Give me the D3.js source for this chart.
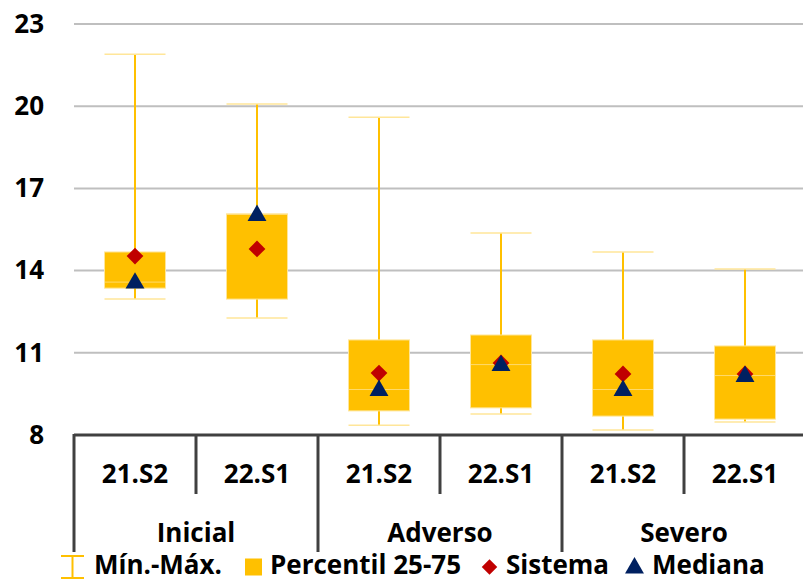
<!DOCTYPE html>
<html>
<head>
<meta charset="utf-8">
<script src="https://cdn.jsdelivr.net/npm/d3@7"></script>
<style>
  body { margin: 0; background: #fff; }
  text { font-family: "Open Sans", Lato, sans-serif; font-weight: bold; fill: #000; }
</style>
</head>
<body>
<svg id="chart" width="803" height="582"></svg>
<script>
// Data
var groups = ["Inicial", "Adverso", "Severo"];
var periods = ["21.S2", "22.S1"];
var minVals = [12.96, 12.27, 8.36, 8.77, 8.18, 8.47];
var p25Vals = [13.36, 12.96, 8.88, 8.99, 8.69, 8.58];
var medianVals = [13.58, 16.05, 9.66, 10.57, 9.66, 10.17];
var p75Vals = [14.68, 16.07, 11.47, 11.65, 11.47, 11.25];
var maxVals = [21.9, 20.08, 19.6, 15.37, 14.68, 14.06];
var sistemaVals = [14.53, 14.79, 10.26, 10.63, 10.23, 10.23];
var yTicks = [8, 11, 14, 17, 20, 23];
var legendLabels = ["Mín.-Máx.", "Percentil 25-75", "Sistema", "Mediana"];

var yellow = "#FFC000",
    capColor = "#FFE699",
    red = "#C00000",
    navy = "#002060",
    axisColor = "#404040",
    gridColor = "#BFBFBF",
    fontSize = "26px";

var svg = d3.select("#chart");

// Build one row per box
var rows = [];
groups.forEach(function (g, gi) {
    periods.forEach(function (p, pi) {
        var i = gi * periods.length + pi;
        rows.push({
            key: g + "|" + p, group: g, period: p,
            min: minVals[i], p25: p25Vals[i], median: medianVals[i],
            p75: p75Vals[i], max: maxVals[i], sistema: sistemaVals[i]
        });
    });
});

var x = d3.scaleBand()
    .domain(rows.map(function (d) { return d.key; }))
    .range([74, 806])
    .padding(0);

var y = d3.scaleLinear()
    .domain([8, 23])
    .range([435, 24]);

var boxW = x.bandwidth() * 0.5;

// Gridlines
svg.append("g")
    .selectAll("line")
    .data(yTicks.slice(1))
    .enter()
    .append("line")
        .attr("x1", 74)
        .attr("x2", 803)
        .attr("y1", function (d) { return y(d); })
        .attr("y2", function (d) { return y(d); })
        .style("stroke", gridColor)
        .style("stroke-width", 2);

// Y axis labels (no axis line)
var yAxis = d3.axisLeft(y).tickValues(yTicks).tickSize(0).tickPadding(0);
var yg = svg.append("g")
    .attr("transform", "translate(44,0)")
    .call(yAxis);
yg.select(".domain").remove();
yg.attr("font-family", null).attr("font-size", null);
yg.selectAll("text")
    .style("font-size", fontSize)
    .attr("fill", "#000");

// Boxes
var boxes = svg.append("g")
    .selectAll("g")
    .data(rows)
    .enter()
    .append("g")
        .attr("transform", function (d) { return "translate(" + (x(d.key) + x.bandwidth() / 2) + ",0)"; });

boxes.append("line")
    .attr("x1", 0).attr("x2", 0)
    .attr("y1", function (d) { return y(d.min); })
    .attr("y2", function (d) { return y(d.max); })
    .style("stroke", yellow)
    .style("stroke-width", 2);

boxes.append("line")
    .attr("x1", -boxW / 2).attr("x2", boxW / 2)
    .attr("y1", function (d) { return y(d.max); })
    .attr("y2", function (d) { return y(d.max); })
    .style("stroke", capColor)
    .style("stroke-width", 1.5);

boxes.append("line")
    .attr("x1", -boxW / 2).attr("x2", boxW / 2)
    .attr("y1", function (d) { return y(d.min); })
    .attr("y2", function (d) { return y(d.min); })
    .style("stroke", capColor)
    .style("stroke-width", 1.5);

boxes.append("rect")
    .attr("x", -boxW / 2)
    .attr("width", boxW)
    .attr("y", function (d) { return y(d.p75); })
    .attr("height", function (d) { return y(d.p25) - y(d.p75); })
    .style("fill", yellow)
    .style("stroke", capColor)
    .style("stroke-width", 1);

boxes.append("line")
    .attr("x1", -boxW / 2).attr("x2", boxW / 2)
    .attr("y1", function (d) { return y(d.median); })
    .attr("y2", function (d) { return y(d.median); })
    .style("stroke", capColor)
    .style("stroke-width", 1)
    .style("opacity", 0.7);

var diamond = d3.symbol().type(d3.symbolSquare).size(140);
var triangle = d3.symbol().type(d3.symbolTriangle).size(155);

boxes.append("path")
    .attr("d", diamond)
    .attr("transform", function (d) { return "translate(0," + y(d.sistema) + ") rotate(45)"; })
    .style("fill", red);

boxes.append("path")
    .attr("d", triangle)
    .attr("transform", function (d) { return "translate(0," + (y(d.median) + 1) + ")"; })
    .style("fill", navy);

// Category axis
var ax = svg.append("g");
ax.append("line")
    .attr("x1", 74).attr("x2", 803)
    .attr("y1", 435).attr("y2", 435)
    .style("stroke", axisColor)
    .style("stroke-width", 3);

var tickKeys = rows.map(function (d) { return d.key; });
ax.selectAll(".catTick")
    .data(tickKeys)
    .enter()
    .append("line")
        .attr("class", "catTick")
        .attr("x1", function (d) { return x(d); })
        .attr("x2", function (d) { return x(d); })
        .attr("y1", 434)
        .attr("y2", function (d, i) { return i % periods.length === 0 ? 552 : 494; })
        .style("stroke", axisColor)
        .style("stroke-width", 3);

ax.selectAll(".periodLabel")
    .data(rows)
    .enter()
    .append("text")
        .attr("class", "periodLabel")
        .attr("x", function (d) { return x(d.key) + x.bandwidth() / 2; })
        .attr("y", 476)
        .attr("text-anchor", "middle")
        .attr("dominant-baseline", "middle")
        .style("font-size", fontSize)
        .text(function (d) { return d.period; });

ax.selectAll(".groupLabel")
    .data(groups)
    .enter()
    .append("text")
        .attr("class", "groupLabel")
        .attr("x", function (g) { return x(g + "|" + periods[0]) + x.bandwidth(); })
        .attr("y", 535)
        .attr("text-anchor", "middle")
        .attr("dominant-baseline", "middle")
        .style("font-size", fontSize)
        .text(function (g) { return g; });

// Legend
var legendX = [61, 245, 482, 626];
var legendTextX = [94, 270, 506, 652];
var ly = 567;
var lg = svg.append("g");

// min-max icon
lg.append("line").attr("x1", legendX[0] + 11.5).attr("x2", legendX[0] + 11.5)
    .attr("y1", ly - 11).attr("y2", ly + 11).style("stroke", yellow).style("stroke-width", 2);
lg.append("line").attr("x1", legendX[0]).attr("x2", legendX[0] + 23)
    .attr("y1", ly - 11).attr("y2", ly - 11).style("stroke", yellow).style("stroke-width", 2);
lg.append("line").attr("x1", legendX[0]).attr("x2", legendX[0] + 23)
    .attr("y1", ly + 11).attr("y2", ly + 11).style("stroke", yellow).style("stroke-width", 2);

lg.append("rect").attr("x", legendX[1]).attr("y", ly - 8.5)
    .attr("width", 17).attr("height", 17).style("fill", yellow);

lg.append("path").attr("d", d3.symbol().type(d3.symbolSquare).size(120))
    .attr("transform", "translate(" + (legendX[2] + 7.5) + "," + ly + ") rotate(45)")
    .style("fill", red);

lg.append("path").attr("d", d3.symbol().type(d3.symbolTriangle).size(155))
    .attr("transform", "translate(" + (legendX[3] + 8.5) + "," + (ly + 1) + ")")
    .style("fill", navy);

lg.selectAll(".legendText")
    .data(legendLabels)
    .enter()
    .append("text")
        .attr("class", "legendText")
        .attr("x", function (d, i) { return legendTextX[i]; })
        .attr("y", ly)
        .attr("dominant-baseline", "middle")
        .style("font-size", fontSize)
        .text(function (d) { return d; });
</script>
</body>
</html>
